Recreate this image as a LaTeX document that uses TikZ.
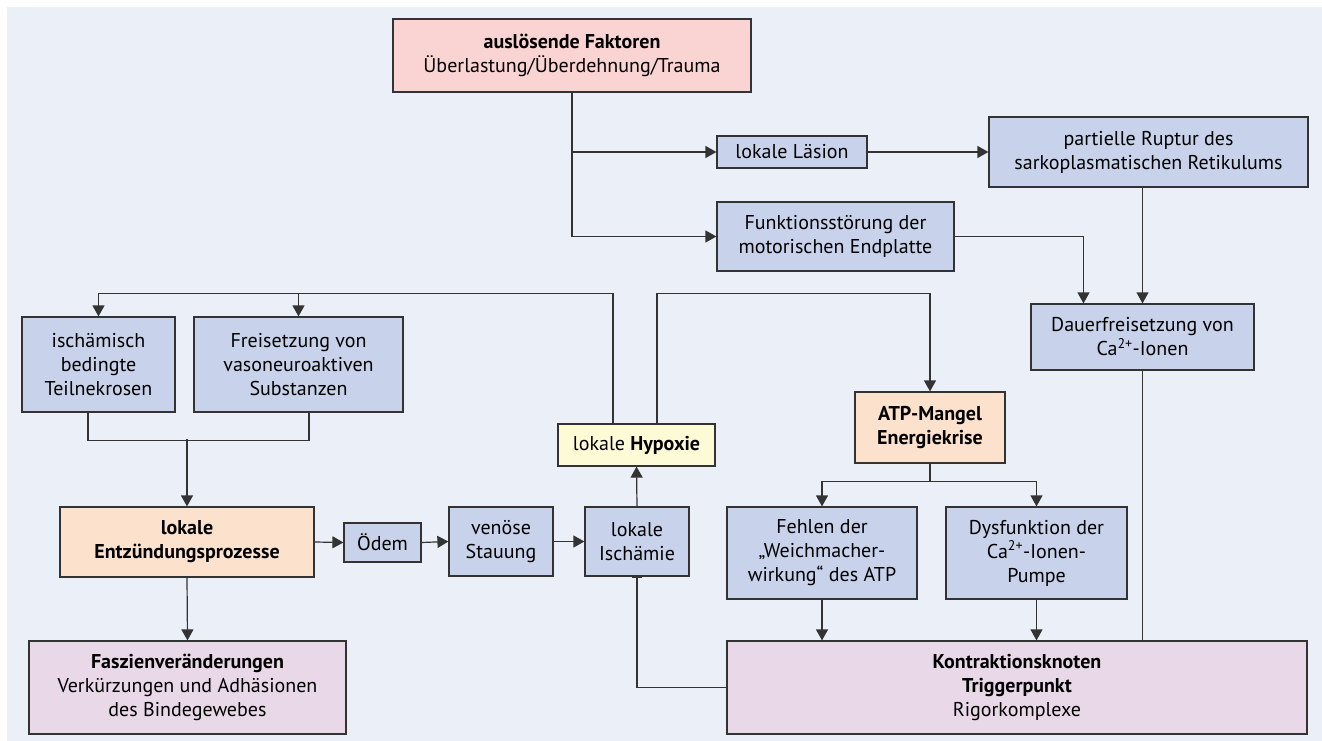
\documentclass[tikz,border=0pt]{standalone}
\usepackage{fontspec}
\setmainfont{PT Sans}
\usetikzlibrary{arrows.meta}

\definecolor{bgblue}{HTML}{EBF0F8}
\definecolor{boxblue}{HTML}{C8D2EA}
\definecolor{boxpink}{HTML}{F9D4D2}
\definecolor{boxpeach}{HTML}{FCE2CC}
\definecolor{boxyellow}{HTML}{FDFAD6}
\definecolor{boxlilac}{HTML}{E8D8E8}
\definecolor{linegray}{HTML}{333333}

\begin{document}
\begin{tikzpicture}[
        x=1pt, y=-1pt,
        >={Triangle[length=11pt,width=12pt]},
        every node/.style={font=\fontsize{20}{24}\selectfont},
        causebox/.style={
            draw=linegray,
            line width=1.2pt,
            align=center,
            inner sep=0pt,
            fill=boxblue
        },
        link/.style={draw=linegray, line width=1.2pt}
    ]
        \fill[bgblue] (7,7) rectangle (1322,741);
        \useasboundingbox (0,0) rectangle (1322,741);

        % upper part
        \node[causebox, fill=boxpink, minimum width=358, minimum height=73] (factors) at (572,55.5) {\textbf{auslösende Faktoren}\\Überlastung/Überdehnung/Trauma};
        \node[causebox, minimum width=150, minimum height=32] (lesion) at (792,152) {lokale Läsion};
        \node[causebox, minimum width=319, minimum height=70] (rupture) at (1148.5,152) {partielle Ruptur des\\sarkoplasmatischen Retikulums};
        \node[causebox, minimum width=237, minimum height=69] (endplate) at (835.5,236.5) {Funktionsstörung der\\motorischen Endplatte};
        \node[causebox, minimum width=223, minimum height=66] (calcium) at (1142.5,337) {Dauerfreisetzung von\\Ca\textsuperscript{2+}-Ionen};

        % left part
        \node[causebox, minimum width=153, minimum height=95] (necrosis) at (98.5,364.5) {ischämisch\\bedingte\\Teilnekrosen};
        \node[causebox, minimum width=209, minimum height=95] (release) at (298.5,364.5) {Freisetzung von\\vasoneuroaktiven\\Substanzen};
        \node[causebox, fill=boxpeach, minimum width=254, minimum height=70] (inflammation) at (187,542) {\textbf{lokale}\\\textbf{Entzündungsprozesse}};
        \node[causebox, fill=boxlilac, minimum width=317, minimum height=93] (fascia) at (187.5,687.5) {\textbf{Faszienveränderungen}\\Verkürzungen und Adhäsionen\\des Bindegewebes};
        \node[causebox, minimum width=77, minimum height=39] (edema) at (382.5,542.5) {Ödem};
        \node[causebox, minimum width=104, minimum height=69] (congestion) at (501,541.5) {venöse\\Stauung};
        \node[causebox, minimum width=104, minimum height=69] (ischemia) at (637,541.5) {lokale\\Ischämie};
        \node[causebox, fill=boxyellow, minimum width=157, minimum height=42] (hypoxia) at (636.5,445) {lokale \textbf{Hypoxie}};

        % right part
        \node[causebox, fill=boxpeach, minimum width=150, minimum height=71] (atp) at (930,427.5) {\textbf{ATP-Mangel}\\\textbf{Energiekrise}};
        \node[causebox, minimum width=190, minimum height=92] (softener) at (822,553) {Fehlen der\\„Weichmacher-\\wirkung“ des ATP};
        \node[causebox, minimum width=181, minimum height=92] (pump) at (1036.5,553) {Dysfunktion der\\Ca\textsuperscript{2+}-Ionen-\\Pumpe};
        \node[causebox, fill=boxlilac, minimum width=580, minimum height=93] (knot) at (1017,687.5) {\textbf{Kontraktionsknoten}\\\textbf{Triggerpunkt}\\Rigorkomplexe};

        \draw[link, ->] (factors.south) |- (endplate.west);
        \draw[link, ->] (factors.south |- lesion.west) -- (lesion.west);
        \draw[link, ->] (lesion.east) -- (rupture.west);
        \draw[link, ->] (calcium.north |- rupture.south) -- (calcium.north);
        \draw[link, ->] (endplate.east) -| ([xshift=-59pt]calcium.north);
        \draw[link] (calcium.south) -- (knot.north -| calcium.south);

        \draw[link, ->] ([xshift=-23.5pt]hypoxia.north) |- ([yshift=23pt]necrosis.north) -- (necrosis.north);
        \draw[link, ->] ([yshift=23pt]release.north) -- (release.north);
        \draw[link, ->] ([xshift=20.5pt]hypoxia.north) |- ([yshift=98pt]atp.north) -- (atp.north);
        \draw[link] ([xshift=-10.5pt]necrosis.south) |- ([xshift=10.5pt,yshift=-28pt]release.south) -- ([xshift=10.5pt]release.south);
        \draw[link, ->] ([yshift=67pt]inflammation.north) -- (inflammation.north);
        \draw[link, ->] (inflammation.south) -- (fascia.north);
        \draw[link, ->] (inflammation.east) -- (edema.west);
        \draw[link, ->] (edema.east) -- (congestion.west);
        \draw[link, ->] (congestion.east) -- (ischemia.west);
        \draw[link, ->] (ischemia.north) -- (hypoxia.south);
        \draw[link, -{Bar[width=10pt,line width=1.5pt]}] (knot.west) -| (ischemia.south);

        \draw[link, ->] (atp.south) |- ([yshift=25pt]softener.north) -- (softener.north);
        \draw[link, ->] (atp.south) |- ([yshift=25pt]pump.north) -- (pump.north);
        \draw[link, ->] (softener.south) -- (knot.north -| softener.south);
        \draw[link, ->] (pump.south) -- (knot.north -| pump.south);
    \end{tikzpicture}
\end{document}
